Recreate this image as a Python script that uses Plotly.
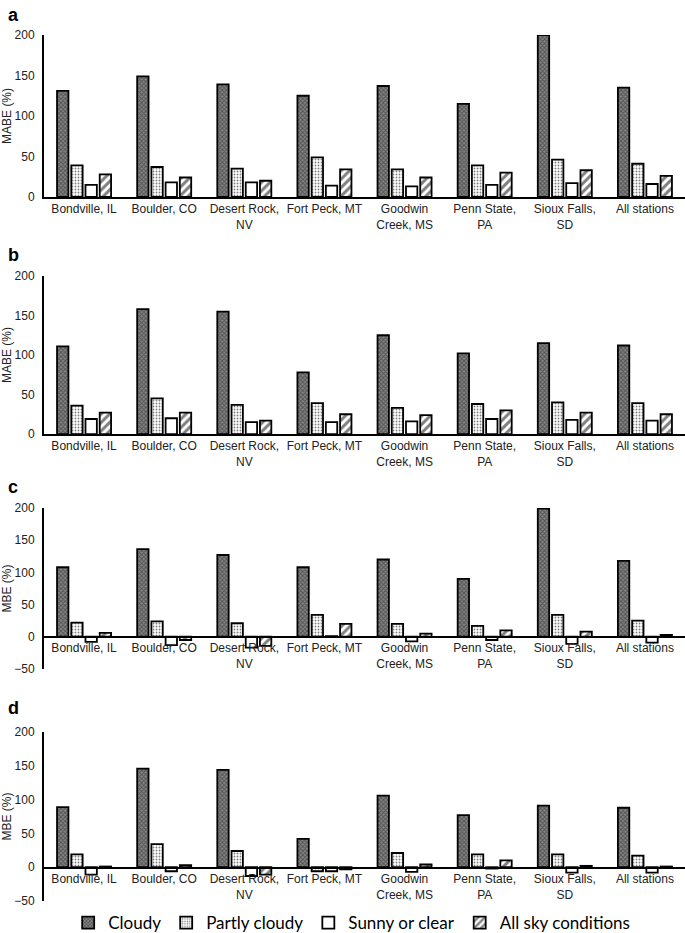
import plotly.graph_objects as go

# station names (wrapped like in the original figure)
stations = ["Bondville, IL", "Boulder, CO", "Desert Rock,<br>NV", "Fort Peck, MT",
            "Goodwin<br>Creek, MS", "Penn State,<br>PA", "Sioux Falls,<br>SD", "All stations"]
conditions = ["Cloudy", "Partly cloudy", "Sunny or clear", "All sky conditions"]

# panel a - MABE (%)
a_cloudy = [131, 149, 139, 125, 137, 115, 200, 135]
a_partly = [39, 37, 35, 49, 34, 39, 46, 41]
a_sunny = [15, 18, 18, 14, 13, 15, 17, 16]
a_all = [28, 24, 20, 34, 24, 30, 33, 26]

# panel b - MABE (%)
b_cloudy = [111, 158, 155, 78, 125, 102, 115, 112]
b_partly = [36, 45, 37, 39, 33, 38, 40, 39]
b_sunny = [19, 20, 15, 15, 16, 19, 18, 17]
b_all = [27, 27, 17, 25, 24, 30, 27, 25]

# panel c - MBE (%)
c_cloudy = [108, 136, 127, 108, 120, 90, 199, 118]
c_partly = [22, 24, 21, 34, 20, 17, 34, 25]
c_sunny = [-8, -13, -17, 1, -7, -5, -11, -9]
c_all = [6, -5, -14, 20, 5, 10, 8, 3]

# panel d - MBE (%)
d_cloudy = [89, 146, 144, 42, 106, 77, 91, 88]
d_partly = [19, 34, 24, -6, 21, 19, 19, 17]
d_sunny = [-11, -6, -13, -6, -7, -2, -8, -8]
d_all = [1, 3, -11, -3, 4, 10, 2, 1]

panels = [
    ("a", "MABE (%)", [a_cloudy, a_partly, a_sunny, a_all]),
    ("b", "MABE (%)", [b_cloudy, b_partly, b_sunny, b_all]),
    ("c", "MBE (%)", [c_cloudy, c_partly, c_sunny, c_all]),
    ("d", "MBE (%)", [d_cloudy, d_partly, d_sunny, d_all]),
]

styles = [
    dict(color="#666666", line=dict(color="black", width=1.8),
         pattern=dict(shape="x", bgcolor="#858585", fgcolor="#222222", size=3, solidity=0.55)),
    dict(color="white", line=dict(color="black", width=1.8),
         pattern=dict(shape=".", bgcolor="white", fgcolor="black", size=3, solidity=0.3)),
    dict(color="white", line=dict(color="black", width=1.8)),
    dict(color="white", line=dict(color="black", width=1.8),
         pattern=dict(shape="/", bgcolor="white", fgcolor="black", size=6, solidity=0.5)),
]

# domains in paper coords (figure 685x933)
domains = [[0.7889, 0.9625], [0.5348, 0.7042], [0.2830, 0.4555], [0.0343, 0.2154]]
ranges = [[0, 200], [0, 200], [-50, 200], [-50, 200]]
xpos = [None, None, 0.3173, 0.0697]
letter_y = [0.984, 0.727, 0.478, 0.241]

fig = go.Figure()
layout = {}
for i, (letter, ytitle, series) in enumerate(panels):
    n = "" if i == 0 else str(i + 1)
    for j, vals in enumerate(series):
        fig.add_trace(go.Bar(x=stations, y=vals, name=conditions[j],
                             marker=styles[j], xaxis="x" + n, yaxis="y" + n,
                             legendgroup=conditions[j], showlegend=(i == 0)))
    xa = dict(domain=[0, 1], showline=True, linecolor="black", linewidth=2,
              ticks="", showgrid=False, tickfont=dict(family="Liberation Sans", size=12, color="#222"))
    if xpos[i] is not None:
        xa.update(anchor="free", position=xpos[i])
    else:
        xa.update(anchor="y" + n)
    layout["xaxis" + n] = xa
    layout["yaxis" + n] = dict(domain=domains[i], range=ranges[i], anchor="x" + n,
                               showline=True, linecolor="black", linewidth=2,
                               showgrid=False, zeroline=False, ticks="", ticklabelstandoff=5,
                               tickvals=list(range(ranges[i][0], 201, 50)),
                               tickfont=dict(family="Liberation Sans", size=12, color="#222"),
                               title=dict(text=ytitle, standoff=2,
                                          font=dict(family="Liberation Sans", size=12, color="#222")))
    fig.add_annotation(text="<b>" + letter + "</b>", xref="paper", yref="paper",
                       x=-0.048, y=letter_y[i], showarrow=False, xanchor="center", yanchor="middle",
                       font=dict(family="Liberation Sans", size=18, color="black"))

fig.update_layout(**layout)
fig.update_layout(
    width=685, height=933,
    margin=dict(l=44, r=0, t=0, b=0, autoexpand=False),
    plot_bgcolor="white", paper_bgcolor="white",
    barmode="group", bargap=0.29, bargroupgap=0.2,
    legend=dict(orientation="h", x=0.48, xanchor="center", y=0.0107, yanchor="middle",
                itemwidth=30, font=dict(family="Lato", size=17, color="black")),
)

# the page body has a default 8px margin; drop it so the figure sits at 0,0
fig.write_html("out.html", config={"displayModeBar": False},
               post_script="document.body.style.margin='0px';")
